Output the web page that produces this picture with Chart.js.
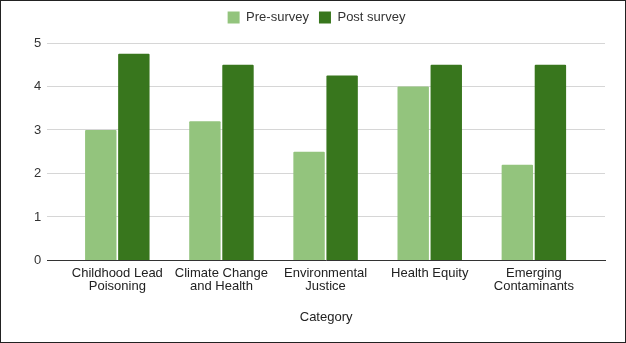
<!DOCTYPE html>
<html lang="en">
<head>
<meta charset="UTF-8">
<title>Pre vs Post survey</title>
<script src="https://cdn.jsdelivr.net/npm/chart.js"></script>
<style>
    html, body { margin: 0; padding: 0; background: #fff; }
    .frame {
        width: 626px;
        height: 343px;
        box-sizing: border-box;
        border: 1px solid #222;
    }
    canvas { display: block; }
</style>
</head>
<body>
<div class="frame">
    <canvas id="chart" width="624" height="341"></canvas>
</div>
<script>
    // categories (two-line tick labels as in the original)
    const categories = [
        ['Childhood Lead', 'Poisoning'],
        ['Climate Change', 'and Health'],
        ['Environmental', 'Justice'],
        ['Health Equity'],
        ['Emerging', 'Contaminants']
    ];
    const preSurvey = [3.0, 3.2, 2.5, 4.0, 2.2];
    const postSurvey = [4.75, 4.5, 4.25, 4.5, 4.5];

    Chart.defaults.font.family = "'Liberation Sans', Arial, sans-serif";
    Chart.defaults.color = '#333';

    // linear x so the plot keeps the wide side margins of the original
    const toPoints = arr => arr.map((v, i) => ({ x: i, y: v }));

    // a bit of extra room under the legend
    const legendGap = {
        id: 'legendGap',
        beforeInit(chart) {
            const fit = chart.legend.fit;
            chart.legend.fit = function () {
                fit.bind(chart.legend)();
                this.height += 9;
            };
        }
    };

    const barOpts = { borderRadius: 1, barPercentage: 0.95, categoryPercentage: 0.635 };

    new Chart(document.getElementById('chart'), {
        type: 'bar',
        data: {
            datasets: [
                Object.assign({ label: 'Pre-survey', data: toPoints(preSurvey), backgroundColor: '#93c47d' }, barOpts),
                Object.assign({ label: 'Post survey', data: toPoints(postSurvey), backgroundColor: '#38761d' }, barOpts)
            ]
        },
        options: {
            responsive: false,
            animation: false,
            layout: { padding: { left: 27, right: 20, top: 0, bottom: 13 } },
            plugins: {
                legend: {
                    position: 'top',
                    labels: {
                        boxWidth: 12, boxHeight: 12, padding: 10,
                        font: { size: 13 }, color: '#333'
                    }
                },
                tooltip: { enabled: false }
            },
            scales: {
                x: {
                    type: 'linear',
                    min: -0.673, max: 4.683,
                    offset: false,
                    afterBuildTicks: scale => { scale.ticks = categories.map((c, i) => ({ value: i })); },
                    grid: { display: false, drawTicks: false },
                    border: { color: '#333', width: 1 },
                    ticks: {
                        callback: v => categories[v],
                        font: { size: 13, lineHeight: 0.96 }, color: '#222', padding: 7, maxRotation: 0, autoSkip: false
                    },
                    title: { display: true, text: 'Category', font: { size: 13 }, color: '#222', padding: { top: 10 } }
                },
                y: {
                    min: 0, max: 5,
                    ticks: { stepSize: 1, font: { size: 13 }, color: '#333', padding: 6 },
                    grid: { color: '#d6d6d6', drawTicks: false },
                    border: { display: false }
                }
            }
        },
        plugins: [legendGap]
    });
</script>
</body>
</html>
